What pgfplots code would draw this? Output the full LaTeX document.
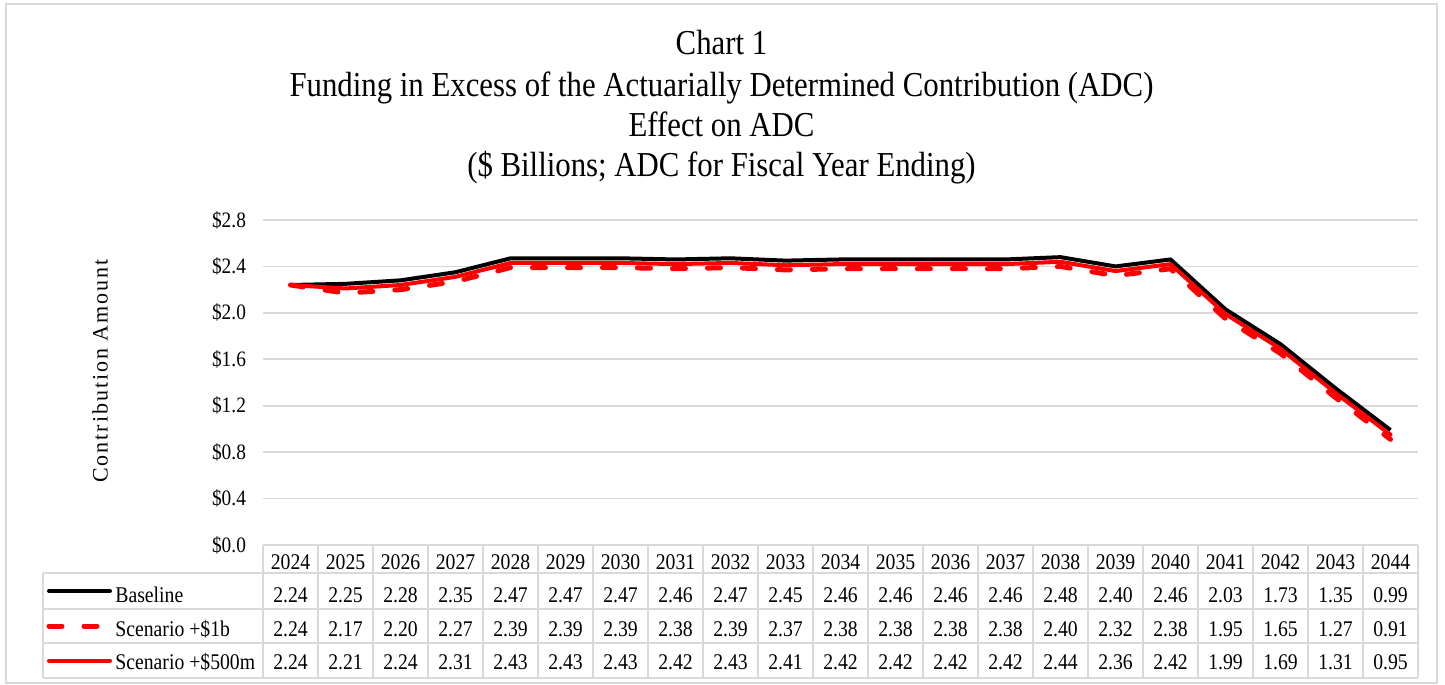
\documentclass[border=0pt]{standalone}
\usepackage{fontspec}
\setmainfont{Liberation Serif}[FakeStretch=0.88]
\newfontfamily\ylabfont{Liberation Serif}[LetterSpace=9]
\usepackage{pgfplots}
\pgfplotsset{compat=1.18}
\definecolor{gridgray}{HTML}{D9D9D9}

\begin{document}
\begin{tikzpicture}
\begin{axis}[
  name=ax,
  at={(0,0)}, anchor=south west,
  scale only axis,
  width=577.5pt, height=162.5pt,
  xmin=-0.5, xmax=20.5,
  ymin=0, ymax=2.8,
  ytick={0,0.4,0.8,1.2,1.6,2.0,2.4,2.8},
  xtick=\empty,
  ymajorgrids,
  grid style={gridgray, line width=0.8pt},
  axis line style={draw=none},
  major tick length=0pt,
  /pgf/number format/assume math mode=true,
  yticklabel={\$\pgfmathprintnumber[fixed,fixed zerofill,precision=1]{\tick}},
  yticklabel style={font=\fontsize{11}{13}\selectfont, xshift=-5pt},
  clip=false,
]
\addplot[black, line width=2pt, line join=round] coordinates {
(0,2.24) (1,2.25) (2,2.28) (3,2.35) (4,2.47) (5,2.47) (6,2.47) (7,2.46) (8,2.47) (9,2.45) (10,2.46)
(11,2.46) (12,2.46) (13,2.46) (14,2.48) (15,2.40) (16,2.46) (17,2.03) (18,1.73) (19,1.35) (20,0.99)};
\addplot[red, line width=2.5pt, line cap=round, dash pattern=on 6.5pt off 11pt] coordinates {
(0,2.24) (1,2.17) (2,2.20) (3,2.27) (4,2.39) (5,2.39) (6,2.39) (7,2.38) (8,2.39) (9,2.37) (10,2.38)
(11,2.38) (12,2.38) (13,2.38) (14,2.40) (15,2.32) (16,2.38) (17,1.95) (18,1.65) (19,1.27) (20,0.91)};
\addplot[red, line width=2pt, line join=round, line cap=round] coordinates {
(0,2.24) (1,2.21) (2,2.24) (3,2.31) (4,2.43) (5,2.43) (6,2.43) (7,2.42) (8,2.43) (9,2.41) (10,2.42)
(11,2.42) (12,2.42) (13,2.42) (14,2.44) (15,2.36) (16,2.42) (17,1.99) (18,1.69) (19,1.31) (20,0.95)};
\end{axis}

% outer frame
\draw[gridgray, line width=1pt] (-128.5pt,-69pt) rectangle (587pt,270.5pt);

% title
\begin{scope}[every node/.style={anchor=base, font=\fontsize{17.5}{20}\selectfont}]
\node at (229.25pt,245pt) {Chart 1};
\node at (229.25pt,224pt) {Funding in Excess of the Actuarially Determined Contribution (ADC)};
\node at (229.25pt,204pt) {Effect on ADC};
\node at (229.25pt,184pt) {(\$ Billions; ADC for Fiscal Year Ending)};
\end{scope}

% y label
\node[rotate=90, font=\ylabfont\fontsize{11}{13}\selectfont] at (-81.5pt,87pt) {Contribution Amount};

% data table grid
\begin{scope}[gridgray, line width=1pt]
\draw (0pt,0pt) -- (577.5pt,0pt);
\foreach \yy in {-14,-32,-49,-66.5} \draw (-110pt,\yy pt) -- (577.5pt,\yy pt);
\foreach \k in {0,...,21} \draw ({27.5pt*\k},0pt) -- ({27.5pt*\k},-66.5pt);
\draw (-110pt,-14pt) -- (-110pt,-66.5pt);
\end{scope}

% legend keys
\draw[black, line width=2pt, line cap=round] (-107pt,-23pt) -- (-76.5pt,-23pt);
\draw[red, line width=2.5pt, line cap=round, dash pattern=on 6.5pt off 11pt] (-107pt,-40.5pt) -- (-76.5pt,-40.5pt);
\draw[red, line width=2pt, line cap=round] (-107pt,-57.75pt) -- (-76.5pt,-57.75pt);

\begin{scope}[every node/.style={font=\fontsize{11.2}{13}\selectfont, inner sep=0pt}]
\node[anchor=base west] at (-74pt,-28.5pt) {Baseline};
\node[anchor=base west] at (-74pt,-45.5pt) {Scenario +\$1b};
\node[anchor=base west] at (-74pt,-62pt) {Scenario +\$500m};
\foreach \v [count=\i from 0] in {2024,2025,2026,2027,2028,2029,2030,2031,2032,2033,2034,2035,2036,2037,2038,2039,2040,2041,2042,2043,2044}
  \node[anchor=base] at ({13.75pt+27.5pt*\i},-12pt) {\v};
\foreach \v [count=\i from 0] in {2.24,2.25,2.28,2.35,2.47,2.47,2.47,2.46,2.47,2.45,2.46,2.46,2.46,2.46,2.48,2.40,2.46,2.03,1.73,1.35,0.99}
  \node[anchor=base] at ({13.75pt+27.5pt*\i},-28.5pt) {\v};
\foreach \v [count=\i from 0] in {2.24,2.17,2.20,2.27,2.39,2.39,2.39,2.38,2.39,2.37,2.38,2.38,2.38,2.38,2.40,2.32,2.38,1.95,1.65,1.27,0.91}
  \node[anchor=base] at ({13.75pt+27.5pt*\i},-45.5pt) {\v};
\foreach \v [count=\i from 0] in {2.24,2.21,2.24,2.31,2.43,2.43,2.43,2.42,2.43,2.41,2.42,2.42,2.42,2.42,2.44,2.36,2.42,1.99,1.69,1.31,0.95}
  \node[anchor=base] at ({13.75pt+27.5pt*\i},-62pt) {\v};
\end{scope}

\pgfresetboundingbox
\useasboundingbox (-131.5pt,-70pt) rectangle (591pt,272.5pt);
\end{tikzpicture}
\end{document}
